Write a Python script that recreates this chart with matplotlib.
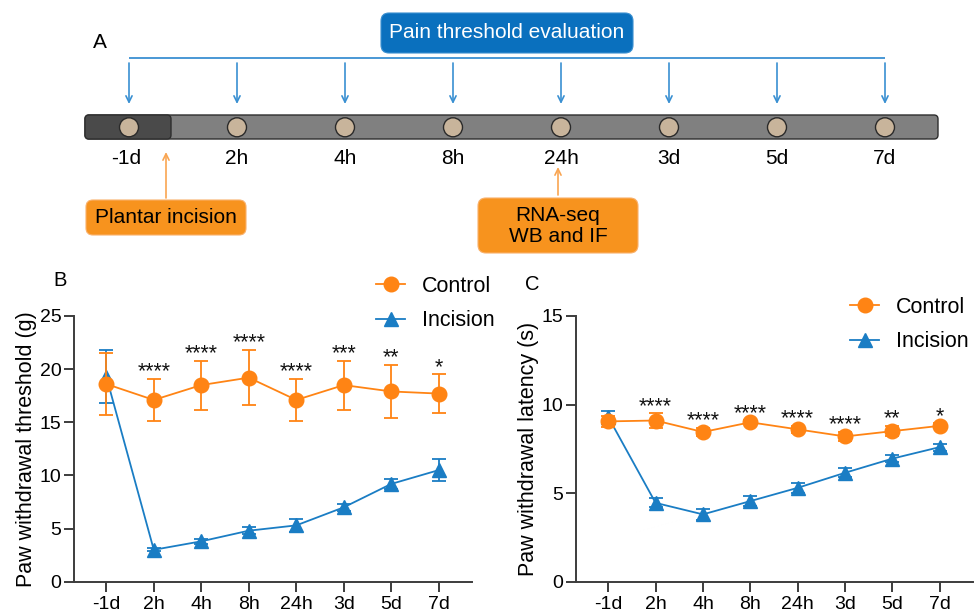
import matplotlib
matplotlib.use('Agg')
import matplotlib.pyplot as plt
from matplotlib.patches import FancyBboxPatch, Circle
from matplotlib.lines import Line2D
import numpy as np

plt.rcParams['font.family'] = ['Liberation Sans', 'DejaVu Sans']

# ---------------- data ----------------
timepoints = ['-1d', '2h', '4h', '8h', '24h', '3d', '5d', '7d']

ctrl_thr = [18.6, 17.1, 18.5, 19.2, 17.1, 18.5, 17.9, 17.7]
ctrl_thr_err = [2.9, 2.0, 2.3, 2.6, 2.0, 2.3, 2.5, 1.8]
inc_thr = [19.3, 3.0, 3.8, 4.8, 5.3, 7.0, 9.2, 10.5]
inc_thr_err = [2.5, 0.15, 0.25, 0.3, 0.6, 0.35, 0.45, 1.0]
sig_thr = ['', '****', '****', '****', '****', '***', '**', '*']

ctrl_lat = [9.05, 9.1, 8.45, 9.0, 8.6, 8.2, 8.5, 8.8]
ctrl_lat_err = [0.3, 0.4, 0.25, 0.12, 0.2, 0.25, 0.3, 0.15]
inc_lat = [9.3, 4.45, 3.8, 4.55, 5.3, 6.15, 6.95, 7.6]
inc_lat_err = [0.35, 0.25, 0.3, 0.3, 0.3, 0.25, 0.2, 0.2]
sig_lat = ['', '****', '****', '****', '****', '****', '**', '*']

series_names = ['Control', 'Incision']

ORANGE = '#FF8414'
BLUE = '#1A7DC4'
AXCOL = '#3c3c3c'

W, H = 977, 615
fig = plt.figure(figsize=(W / 100, H / 100), dpi=100)

# ---------------- panel A: timeline diagram ----------------
topH = 258
axA = fig.add_axes([0, 1 - topH / H, 1, topH / H])
axA.set_xlim(0, W)
axA.set_ylim(topH, 0)
axA.axis('off')

xs = [129 + 108 * i for i in range(len(timepoints))]

axA.text(100, 42, 'A', fontsize=15, ha='center', va='center')

axA.add_patch(FancyBboxPatch((381, 13), 252, 40, boxstyle='round,pad=0,rounding_size=8',
                             fc='#0A70BE', ec='#3a8fd0', lw=0.8))
axA.text(507, 33, 'Pain threshold evaluation', color='white', fontsize=15,
         ha='center', va='center')

axA.plot([xs[0], xs[-1]], [58.5, 58.5], color='#3a90d2', lw=1.3, solid_capstyle='butt')
for x in xs:
    axA.annotate('', xy=(x, 104), xytext=(x, 63),
                 arrowprops=dict(arrowstyle='->,head_length=0.45,head_width=0.22',
                                 color='#3a90d2', lw=1.2, shrinkA=0, shrinkB=0))

axA.add_patch(FancyBboxPatch((85, 115), 853, 24, boxstyle='round,pad=0,rounding_size=4',
                             fc='#808080', ec='#2e2e2e', lw=1.0))
axA.add_patch(FancyBboxPatch((85, 115), 86, 24, boxstyle='round,pad=0,rounding_size=4',
                             fc='#4a4a4a', ec='#2e2e2e', lw=1.0))
for x, tp in zip(xs, timepoints):
    axA.add_patch(Circle((x, 127.3), 9.5, fc='#C8B49B', ec='#2a2a2a', lw=1.0, zorder=3))
    axA.text(x - (3 if tp.startswith('-') else 0), 158, tp, fontsize=15,
             ha='center', va='center')

for (x, y0, y1) in [(166, 198, 152), (558, 195, 167)]:
    axA.annotate('', xy=(x, y1), xytext=(x, y0),
                 arrowprops=dict(arrowstyle='->,head_length=0.45,head_width=0.22',
                                 color='#F9A552', lw=1.2, shrinkA=0, shrinkB=0))

axA.add_patch(FancyBboxPatch((86, 200), 160, 35, boxstyle='round,pad=0,rounding_size=7',
                             fc='#F7931E', ec='#f9b06a', lw=0.8))
axA.text(166, 218, 'Plantar incision', fontsize=15, ha='center', va='center')

axA.add_patch(FancyBboxPatch((478, 198), 160, 55, boxstyle='round,pad=0,rounding_size=8',
                             fc='#F7931E', ec='#f9b06a', lw=0.8))
axA.text(558, 226, 'RNA-seq\nWB and IF', fontsize=15, ha='center', va='center',
         linespacing=1.15)


# ---------------- panels B, C ----------------
def panel(rect, ctrl, ctrl_err, inc, inc_err, sig, ymax, ylabel, leg_anchor):
    ax = fig.add_axes(rect)
    x = np.arange(len(timepoints))
    ax.errorbar(x, inc, yerr=inc_err, color=BLUE, marker='^', ms=10.5, lw=1.3,
                elinewidth=1.3, capsize=5, capthick=1.3, zorder=3, clip_on=False)
    ax.errorbar(x, ctrl, yerr=ctrl_err, color=ORANGE, marker='o', ms=10.5, lw=1.3,
                elinewidth=1.3, capsize=5, capthick=1.3, zorder=4, clip_on=False)
    for xi, c, e, s in zip(x, ctrl, ctrl_err, sig):
        if s:
            ax.annotate(s, (xi, c + e), xytext=(0, 1), textcoords='offset points',
                        ha='center', va='baseline', fontsize=15.5, color='#111111')
    ax.set_xlim(-0.68, 7.7)
    ax.set_ylim(0, ymax)
    ax.set_yticks(np.arange(0, ymax + 1, 5))
    ax.set_xticks(x)
    ax.set_xticklabels(timepoints)
    for sp in ['top', 'right']:
        ax.spines[sp].set_visible(False)
    for sp in ['left', 'bottom']:
        ax.spines[sp].set_color(AXCOL)
        ax.spines[sp].set_linewidth(1.4)
    ax.tick_params(direction='out', length=7.5, width=1.4, color=AXCOL,
                   labelsize=14)
    ax.tick_params(axis='y', pad=1.5)
    ax.tick_params(axis='x', pad=3)
    ax.set_ylabel(ylabel, fontsize=15.5, labelpad=2)
    handles = [Line2D([], [], color=ORANGE, marker='o', ms=10.5, lw=1.3),
               Line2D([], [], color=BLUE, marker='^', ms=10.5, lw=1.3)]
    ax.legend(handles, series_names, loc='upper left', bbox_to_anchor=leg_anchor,
              bbox_transform=fig.transFigure, frameon=False, fontsize=15.5,
              handlelength=1.35, handletextpad=0.8, borderpad=0, borderaxespad=0,
              labelspacing=0.62)
    return ax

ax_bottom = 1 - 581.7 / H
ax_h = (581.7 - 316) / H
axB = panel([74 / W, ax_bottom, (472 - 74) / W, ax_h], ctrl_thr, ctrl_thr_err,
            inc_thr, inc_thr_err, sig_thr, 25, 'Paw withdrawal threshold (g)',
            (376 / W, 1 - 276 / H))
axC = panel([576 / W, ax_bottom, (973 - 576) / W, ax_h], ctrl_lat, ctrl_lat_err,
            inc_lat, inc_lat_err, sig_lat, 15, 'Paw withdrawal latency (s)',
            (850 / W, 1 - 297 / H))

fig.text(60 / W, 1 - 280 / H, 'B', fontsize=14.5, ha='center', va='center')
fig.text(532 / W, 1 - 285 / H, 'C', fontsize=14.5, ha='center', va='center')

fig.savefig('out.png', dpi=100)
